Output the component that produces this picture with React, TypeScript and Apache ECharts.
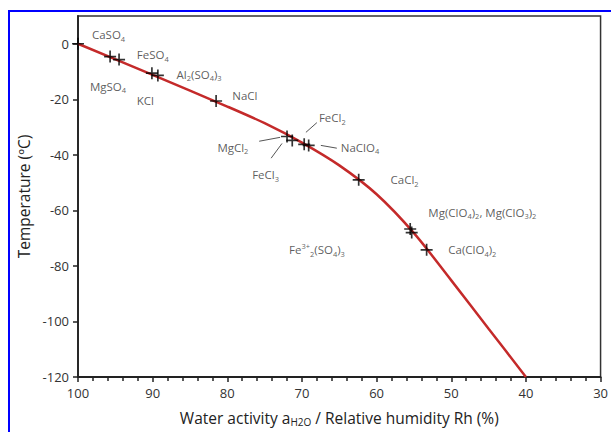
import React, { useEffect, useRef } from "react";
import * as echarts from "echarts";

// Salt eutectic points: water activity (%) and temperature (°C)
const saltX = [100, 95.7, 94.5, 90.1, 89.3, 81.5, 72.0, 71.3, 69.7, 69.1, 62.4, 55.5, 55.3, 53.3];
const saltY = [0, -4.6, -5.7, -10.6, -11.4, -20.6, -33.4, -34.8, -36.2, -36.6, -49.0, -66.7, -68.0, -74.2];

// Red trend curve
const curveX = [100, 90, 80, 75, 70, 65, 60, 55, 50, 45, 40];
const curveY = [0, -11.2, -22.6, -28.6, -35.6, -43.8, -54.2, -68.2, -85.2, -102.6, -120];

// Annotation labels (rich text) and their anchor in data space
const labelTexts = [
  "CaSO{s|4}",
  "FeSO{s|4}",
  "MgSO{s|4}",
  "Al{s|2}(SO{s|4}){s|3}",
  "KCl",
  "NaCl",
  "FeCl{s|2}",
  "MgCl{s|2}",
  "FeCl{s|3}",
  "NaClO{s|4}",
  "CaCl{s|2}",
  "Mg(ClO{s|4}){s|2}, Mg(ClO{s|3}){s|2}",
  "Fe{p|3+}{s|2}(SO{s|4}){s|3}",
  "Ca(ClO{s|4}){s|2}",
];
const labelX = [98.13, 92.13, 98.4, 86.8, 92.13, 79.33, 67.73, 81.33, 76.67, 64.8, 58.13, 53.07, 71.73, 50.4];
const labelY = [3.2, -3.9, -15.3, -11.0, -20.6, -18.8, -26.6, -37.3, -47.2, -37.3, -49.0, -60.7, -74.2, -74.2];

// Leader lines [x1, y1, x2, y2]
const leaderLines = [
  [75.73, -35.1, 72.93, -33.7],
  [74.13, -41.2, 72.67, -35.9],
  [69.47, -31.9, 68.0, -28.4],
  [67.47, -36.6, 65.33, -37.6],
];

const xTicks = [100, 90, 80, 70, 60, 50, 40, 30];
const yTicks = [0, -20, -40, -60, -80, -100, -120];

const FONT = "'Open Sans', 'Noto Sans', sans-serif";
const PLUS = "path://M4.3,0 H5.7 V4.3 H10 V5.7 H5.7 V10 H4.3 V5.7 H0 V4.3 H4.3 Z";

export default function App() {
  const ref = useRef<HTMLDivElement>(null);
  useEffect(() => {
    if (!ref.current) return;
    const chart = echarts.init(ref.current, undefined, { renderer: "svg" });
    const richLabel = {
      fontFamily: FONT,
      fontSize: 11.5,
      color: "#333",
      rich: {
        s: { fontSize: 7.5, fontFamily: FONT, color: "#333", padding: [8, 0, 0, 0] },
        p: { fontSize: 7.5, fontFamily: FONT, color: "#333", padding: [0, 0, 7, 0] },
      },
    };
    chart.setOption({
      animation: false,
      backgroundColor: "#ffffff",
      graphic: [
        {
          type: "rect",
          shape: { x: 9, y: 11, width: 700, height: 500 },
          style: { fill: "none", stroke: "#0000ff", lineWidth: 2 },
          silent: true,
          z: 100,
        },
      ],
      grid: {
        left: 78,
        top: 16,
        right: 8,
        bottom: 50,
        show: true,
        borderColor: "#333",
        borderWidth: 1.5,
        backgroundColor: "transparent",
      },
      xAxis: {
        type: "value",
        inverse: true,
        min: 30,
        max: 100,
        interval: 10,
        name: "Water activity a{s|H2O} / Relative humidity Rh (%)",
        nameLocation: "middle",
        nameGap: 32,
        nameTextStyle: {
          fontFamily: FONT,
          fontSize: 15.5,
          color: "#222",
          rich: { s: { fontSize: 10, fontFamily: FONT, color: "#222", padding: [8, 0, 0, 0] } },
        },
        axisLine: { show: true, onZero: false, lineStyle: { color: "#222", width: 1.8 } },
        axisTick: { show: true, inside: false, length: 5, lineStyle: { color: "#222", width: 1.5 } },
        minorTick: { show: true, splitNumber: 5, length: 4, lineStyle: { color: "#222", width: 1.5 } },
        splitLine: { show: false },
        axisLabel: {
          fontFamily: FONT,
          fontSize: 13,
          color: "#333",
          margin: 9,
          formatter: (v: number) => (xTicks.includes(v) ? String(v) : ""),
        },
      },
      yAxis: {
        type: "value",
        min: -120,
        max: 10,
        interval: 20,
        name: "Temperature (ºC)",
        nameLocation: "middle",
        nameGap: 41,
        nameTextStyle: { fontFamily: FONT, fontSize: 15.5, color: "#222" },
        axisLine: { show: true, onZero: false, lineStyle: { color: "#222", width: 1.8 } },
        axisTick: { show: true, inside: false, length: 5, lineStyle: { color: "#222", width: 1.5 } },
        splitLine: { show: false },
        axisLabel: {
          fontFamily: FONT,
          fontSize: 13,
          color: "#333",
          margin: 9,
          showMaxLabel: false,
          formatter: (v: number) => (yTicks.includes(v) ? String(v) : ""),
        },
      },
      series: [
        {
          type: "line",
          data: curveX.map((x, i) => [x, curveY[i]]),
          smooth: 0.3,
          showSymbol: false,
          lineStyle: { color: "#c42a2a", width: 2.5 },
          z: 2,
        },
        {
          type: "lines",
          coordinateSystem: "cartesian2d",
          data: leaderLines.map((l) => ({ coords: [[l[0], l[1]], [l[2], l[3]]] })),
          lineStyle: { color: "#555", width: 1, opacity: 1 },
          z: 3,
        },
        {
          type: "scatter",
          data: saltX.map((x, i) => [x, saltY[i]]),
          symbol: PLUS,
          symbolSize: 12,
          itemStyle: { color: "#000" },
          z: 4,
        },
        {
          type: "scatter",
          data: labelX.map((x, i) => ({ value: [x, labelY[i]], label: { formatter: labelTexts[i] } })),
          symbolSize: 0,
          silent: true,
          label: { show: true, position: "right", distance: 0, ...richLabel },
          z: 5,
        },
      ],
    });
    return () => chart.dispose();
  }, []);
  return (
    <div
      ref={ref}
      style={{ position: "fixed", left: 0, top: 0, width: 611, height: 432 }}
    />
  );
}
